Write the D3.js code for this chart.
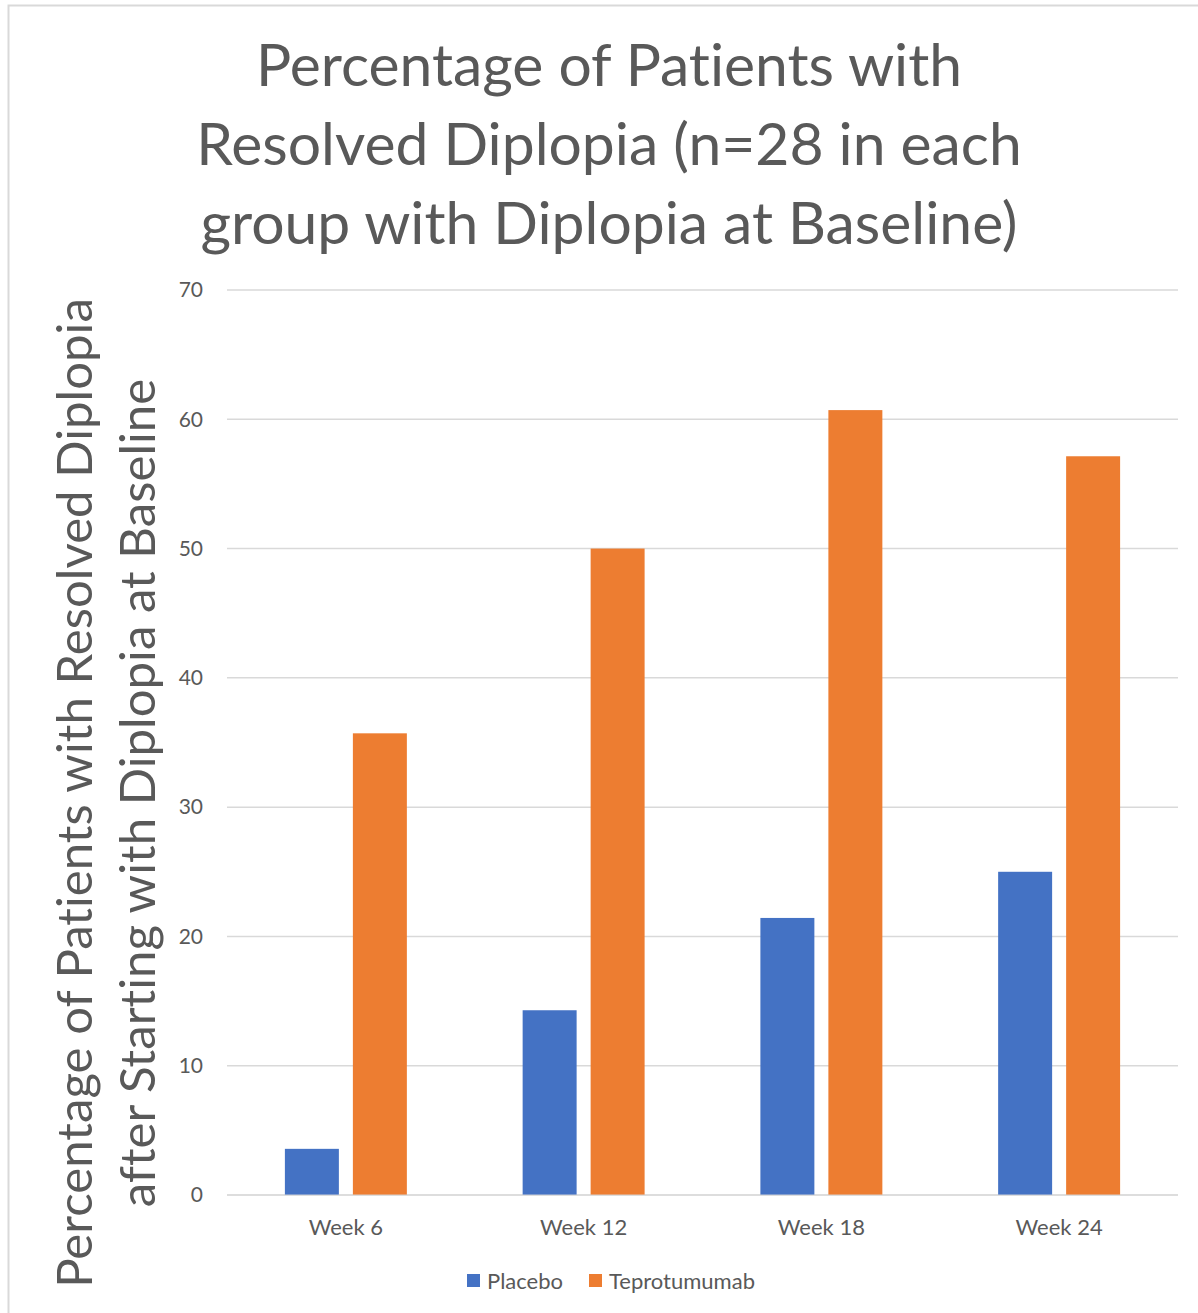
<!DOCTYPE html>
<html>
<head>
<meta charset="utf-8">
<script src="https://cdn.jsdelivr.net/npm/d3@7"></script>
<style>
  html, body { margin: 0; padding: 0; background: #fff; }
  svg { display: block; }
  text { font-family: Lato, "Open Sans", sans-serif; fill: #595959; font-variant-ligatures: none; }
</style>
</head>
<body>
<svg id="chart" width="1198" height="1313"></svg>
<script>
// Resolved diplopia by visit (n = 28 per group)
const categories = ["Week 6", "Week 12", "Week 18", "Week 24"];
const seriesNames = ["Placebo", "Teprotumumab"];
const placebo = [3.57, 14.29, 21.43, 25.0];
const teprotumumab = [35.71, 50.0, 60.71, 57.14];
const yTicks = [0, 10, 20, 30, 40, 50, 60, 70];
const titleLines = ["Percentage of Patients with", "Resolved Diplopia (n=28 in each", "group with Diplopia at Baseline)"];
const yLabelLines = ["Percentage of Patients with Resolved Diplopia", "after Starting with Diplopia at Baseline"];
const colors = ["#4472C4", "#ED7D31"];

const values = [placebo, teprotumumab];
const svg = d3.select("#chart");
const fontStack = "Lato, 'Open Sans', sans-serif";

// outer chart frame (top and left edges visible)
svg.append("path")
  .attr("d", "M8.5,1313 V5.5 H1198")
  .attr("fill", "none").attr("stroke", "#d9d9d9").attr("stroke-width", 2);

const plot = { left: 227, right: 1178, top: 290, bottom: 1195 };

const x = d3.scaleBand().domain(categories)
  .range([plot.left, plot.right]).paddingInner(0.487).paddingOuter(0.2435);
const xs = d3.scaleBand().domain(seriesNames)
  .range([0, x.bandwidth()]).paddingInner(0.206).paddingOuter(0);
const y = d3.scaleLinear().domain([0, 70]).range([plot.bottom, plot.top]);

// gridlines
svg.append("g").selectAll("line").data(yTicks).join("line")
  .attr("x1", plot.left).attr("x2", plot.right)
  .attr("y1", d => y(d)).attr("y2", d => y(d))
  .attr("stroke", "#d9d9d9").attr("stroke-width", 1.5);

// y tick labels
const yAxis = d3.axisLeft(y).tickValues(yTicks).tickSize(0).tickPadding(0);
const gy = svg.append("g").attr("transform", `translate(${plot.left - 24},0)`).call(yAxis);
gy.select(".domain").remove();
gy.selectAll("text").attr("font-size", 21).attr("fill", "#595959")
  .style("font-family", fontStack);

// bars
const groups = svg.append("g").selectAll("g").data(categories).join("g")
  .attr("transform", d => `translate(${x(d)},0)`);
groups.selectAll("rect")
  .data((c, i) => seriesNames.map((s, k) => ({ s, k, v: values[k][i] })))
  .join("rect")
  .attr("x", d => xs(d.s))
  .attr("width", xs.bandwidth())
  .attr("y", d => y(d.v))
  .attr("height", d => y(0) - y(d.v))
  .attr("fill", d => colors[d.k]);

// baseline redrawn over bar bottoms
svg.append("line").attr("x1", plot.left).attr("x2", plot.right)
  .attr("y1", y(0)).attr("y2", y(0))
  .attr("stroke", "#d9d9d9").attr("stroke-width", 1.5).attr("opacity", 0.6);

// x axis labels
const xAxis = d3.axisBottom(x).tickSize(0).tickPadding(0);
const gx = svg.append("g").attr("transform", `translate(0,${plot.bottom + 40})`).call(xAxis);
gx.select(".domain").remove();
gx.selectAll("text").attr("font-size", 22).attr("fill", "#595959").attr("dy", 0)
  .style("font-family", fontStack);

// title
svg.append("g").selectAll("text").data(titleLines).join("text")
  .attr("x", 609).attr("y", (d, i) => 86 + i * 79)
  .attr("text-anchor", "middle").attr("font-size", 58.8)
  .text(d => d);

// y axis title
svg.append("g").attr("transform", "translate(0,793) rotate(-90)")
  .selectAll("text").data(yLabelLines).join("text")
  .attr("x", 0).attr("y", (d, i) => 92 + i * 63)
  .attr("text-anchor", "middle").attr("font-size", 49.2)
  .text(d => d);

// legend
const legend = svg.append("g").attr("transform", "translate(467,1281)");
const legendX = [0, 122];
const li = legend.selectAll("g").data(seriesNames).join("g")
  .attr("transform", (d, i) => `translate(${legendX[i]},0)`);
li.append("rect").attr("x", 0).attr("y", -7).attr("width", 13).attr("height", 13)
  .attr("fill", (d, i) => colors[i]);
li.append("text").attr("x", 20).attr("y", 8).attr("font-size", 22).text(d => d);
</script>
</body>
</html>
